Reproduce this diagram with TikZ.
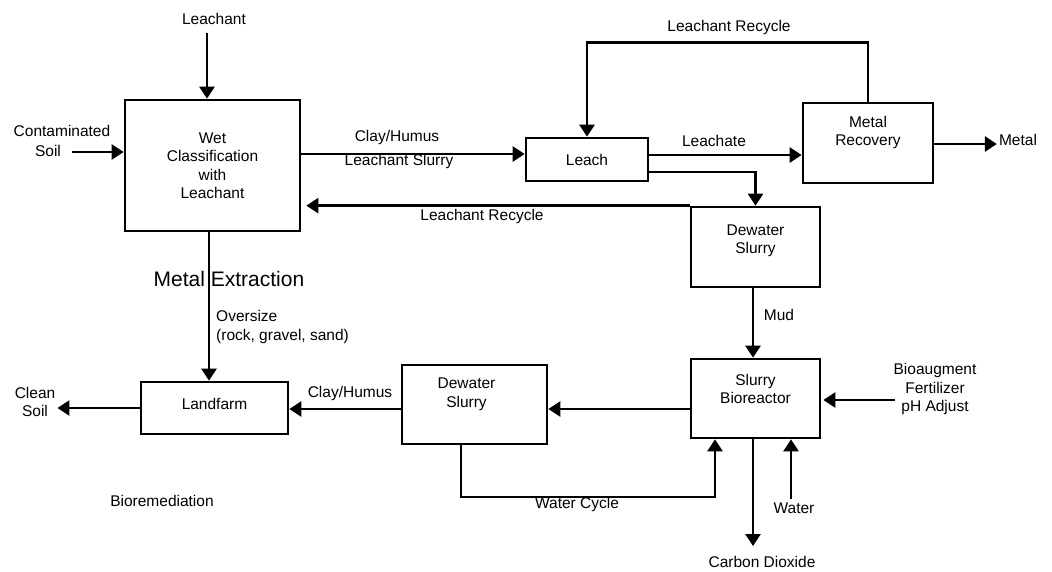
\documentclass[tikz,border=0pt]{standalone}
\usepackage{fontspec}
\setmainfont{Liberation Sans}
\usetikzlibrary{arrows.meta,calc}
\begin{document}
\begin{tikzpicture}[x=1pt,y=-1pt,
  font=\fontsize{15.5}{18.5}\selectfont,
  box/.style={draw,line width=2.7pt,inner sep=0pt,align=center},
  txt/.style={align=center,inner sep=2pt},
  arr/.style={-{Triangle[length=12pt,width=15pt]},line width=2.7pt}]
\useasboundingbox (0,0) rectangle (1052,571);
% boxes
\node[box,minimum width=175pt,minimum height=131pt] (wet) at (212.5,165.5) {Wet\\Classification\\with\\Leachant};
\node[box,minimum width=122pt,minimum height=43pt] (leach) at (587,159.5) {Leach};
\node[box,minimum width=130pt,minimum height=80pt,label={[txt,yshift=10.5pt]center:Metal\\Recovery}] (mr) at (868,143) {};
\node[box,minimum width=129pt,minimum height=80pt,label={[txt,yshift=6pt]center:Dewater\\Slurry}] (dw1) at (755.5,247) {};
\node[box,minimum width=129pt,minimum height=79pt,label={[txt,yshift=9.5pt]center:Slurry\\Bioreactor}] (sb) at (755.5,398.5) {};
\node[box,minimum width=145pt,minimum height=79pt,label={[txt,yshift=10pt,xshift=-8pt]center:Dewater\\Slurry}] (dw2) at (474.5,404.5) {};
\node[box,minimum width=147pt,minimum height=52pt,label={[txt,yshift=4pt]center:Landfarm}] (lf) at (214.5,408) {};
% text labels
\node[txt] (lch) at (214,19) {Leachant};
\node[txt,font=\fontsize{15.5}{20}\selectfont] (cs) at (62,141) {Contaminated\\Soil\hspace{28pt}\null};
\node[txt] (cl1) at (397,137) {Clay/Humus};
\node[txt] (ls) at (399,161) {Leachant Slurry};
\node[txt] (lr1) at (729,27) {Leachant Recycle};
\node[txt] (lchate) at (714,141) {Leachate};
\node[txt] (metal) at (1018,140) {Metal};
\node[txt] (lr2) at (482,216) {Leachant Recycle};
\node[txt,font=\fontsize{21}{24}\selectfont] (mex) at (229,279) {Metal Extraction};
\node[txt,align=left,anchor=west] (ovs) at (214,327) {Oversize\\(rock, gravel, sand)};
\node[txt] (mud) at (779,315) {Mud};
\node[txt] (cl2) at (350,393) {Clay/Humus};
\node[txt] (clean) at (35,402) {Clean\\Soil};
\node[txt] (bio) at (935,389) {Bioaugment\\Fertilizer\\pH Adjust};
\node[txt] (biorem) at (162,501) {Bioremediation};
\node[txt] (wcy) at (577,504) {Water Cycle};
\node[txt] (water) at (794,508) {Water};
\node[txt] (co2) at (762,562) {Carbon Dioxide};
% helper coordinates
\coordinate (csa) at (72,152);
\coordinate (wcl) at (0,497);
\coordinate (lchx) at (207,33);
\coordinate (bioa) at (895,400);
\coordinate (wata) at (791,499);
\coordinate (co2a) at (753,546);
% connectors
\draw[arr] (lchx) -- (lchx |- wet.north);
\draw[arr] (csa) -- (csa -| wet.west);
\draw[arr] ([yshift=5.5pt]leach.west -| wet.east) -- ([yshift=5.5pt]leach.west);
\draw[arr] ([yshift=-12pt]mr.west -| leach.east) -- ([yshift=-12pt]mr.west);
\draw[arr] (mr.north) -- ++(0,-59) -| (leach.north);
\draw[arr] ([yshift=-1pt]mr.east) -- ([yshift=-1pt]mr.east -| metal.west);
\draw[arr] ([yshift=-12.5pt]leach.east) -| (dw1.north);
\draw[arr] (dw1.north west) -- ([xshift=5pt]dw1.north west -| wet.east);
\draw[arr] ([xshift=-3.5pt]wet.south) -- ([xshift=-3.5pt]wet.south |- lf.north);
\draw[arr] ([yshift=-4.5pt]dw2.west) -- ([yshift=-4.5pt]dw2.west -| lf.east);
\draw[arr] (lf.west) -- (lf.west -| clean.east);
\draw[arr] ([xshift=-2.5pt]dw1.south) -- ([xshift=-2.5pt]sb.north);
\draw[arr] ([yshift=-10.5pt]sb.west) -- ([yshift=-10.5pt]sb.west -| dw2.east);
\draw[arr] (bioa) -- ([xshift=2pt]bioa -| sb.east);
\draw[arr] ([xshift=-13.5pt]dw2.south) -- ([xshift=-13.5pt]dw2.south |- wcl) -- ([xshift=-40.5pt]sb.south |- wcl) -- ([xshift=-40.5pt]sb.south);
\draw[arr] (co2a |- sb.south) -- (co2a);
\draw[arr] (wata) -- (wata |- sb.south);
\end{tikzpicture}
\end{document}
